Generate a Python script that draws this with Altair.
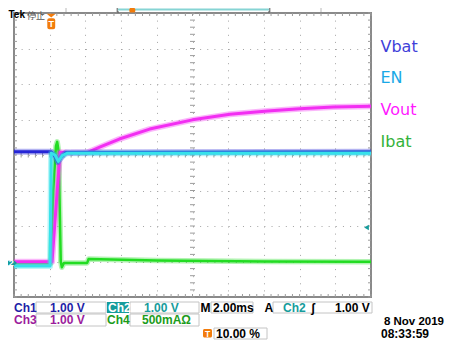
import altair as alt
import pandas as pd
import numpy as np

# ---- traces: time in ms (trigger = 0 ms), level in graticule divisions from centre
vbat_t = [-2.0, 0.10, 0.30, 0.45, 0.62, 0.90, 18.0]
vbat_d = [0.09, 0.09, -0.05, -0.20, -0.08, 0.07, 0.09]

en_t = [-2.0, 0.02, 0.08, 0.30, 0.48, 0.70, 1.00, 18.0]
en_d = [-3.13, -3.13, 0.05, 0.00, -0.18, -0.02, 0.05, 0.05]

vout_t = [-2.0, 0.13, 0.58, 1.2, 2.1, 2.8, 3.9, 5.6, 8.0, 10.1, 12.2, 14.0, 15.9, 18.0]
vout_d = [-3.01, -3.01, 0.08, 0.06, 0.07, 0.22, 0.45, 0.73, 0.99, 1.15, 1.24, 1.30, 1.35, 1.37]

ibat_t = [-2.0, 0.05, 0.20, 0.35, 0.42, 0.50, 0.62, 0.68, 0.80, 2.10, 2.18, 6.0, 12.0, 18.0]
ibat_d = [-3.05, -3.05, -1.0, 0.25, 0.37, 0.10, -3.00, -3.16, -3.04, -3.04, -2.93, -2.97, -3.00, -3.01]

ch2_ground = -3.04      # divisions
ch2_trig_level = 1.00   # V (1 V/div)

trace_names = ["Vbat", "EN", "Vout", "Ibat"]
trace_colors = ["#2626d6", "#36e2ea", "#f22ef2", "#22dc22"]
label_colors = ["#3f3fd9", "#1aa8e6", "#ff1aff", "#34b23a"]

readout_row1 = [("Ch1", "#1f1fa8"), ("1.00 V", "#1f1fa8"), ("Ch2", "#ffffff"),
                ("1.00 V", "#169c9c"), ("M", "#000000"), ("2.00ms", "#000000"),
                ("A", "#000000"), ("Ch2", "#169c9c"), ("ʃ", "#000000"), ("1.00 V", "#000000")]
readout_row2 = [("Ch3", "#9c1c9c"), ("1.00 V", "#9c1c9c"), ("Ch4", "#1c9c1c"), ("500mAΩ", "#1c9c1c")]
trig_pos_text = "10.00 %"
date_text = "8 Nov 2019"
time_text = "08:33:59"
status_brand = "Tek"
status_state = "停止"

W, H = 357, 284
OX, OY = 14, 13          # page position of plot origin
TX = 20 / W              # ms per px
DY = 8 / H               # div per px

XS = alt.Scale(domain=[-2, 18], nice=False, zero=False)
YS = alt.Scale(domain=[-4, 4], nice=False, zero=False)
xaxis = alt.Axis(values=[0, 2, 4, 6, 8, 10, 12, 14, 16], grid=True, gridDash=[1, 6.1],
                 gridColor="#a4a4a4", gridWidth=1, ticks=False, labels=False,
                 domain=False, title=None)
yaxis = alt.Axis(values=[-3, -2, -1, 0, 1, 2, 3], grid=True, gridDash=[1, 6.14],
                 gridColor="#a4a4a4", gridWidth=1, ticks=False, labels=False,
                 domain=False, title=None)


def X(f="t"):
    return alt.X(f"{f}:Q", scale=XS, axis=xaxis)


def Y(f="d"):
    return alt.Y(f"{f}:Q", scale=YS, axis=yaxis)


dummy = pd.DataFrame({"k": [0]})


def px(x):
    return x - OX


def py(y):
    return y - OY


def txt(s, x, y, color="#000000", size=12, weight="bold", align="left",
        font="Liberation Sans", baseline="middle"):
    return alt.Chart(dummy).mark_text(
        text=s, align=align, baseline=baseline, font=font, fontSize=size,
        fontWeight=weight, color=color
    ).encode(x=alt.value(px(x)), y=alt.value(py(y)))


def box(x1, y1, x2, y2, fill="#ffffff", stroke="#c4c4c4", r=0):
    kw = dict(fill=fill, strokeWidth=1, cornerRadius=r)
    if stroke:
        kw["stroke"] = stroke
    return alt.Chart(dummy).mark_rect(**kw).encode(
        x=alt.value(px(x1)), x2=alt.value(px(x2)),
        y=alt.value(py(y1)), y2=alt.value(py(y2)))


def vline(x, y1, y2, color="#b8b8b8", w=1):
    return alt.Chart(dummy).mark_rule(color=color, strokeWidth=w).encode(
        x=alt.value(px(x)), y=alt.value(py(y1)), y2=alt.value(py(y2)))


def hline(x1, x2, y, color="#b8b8b8", w=1):
    return alt.Chart(dummy).mark_rule(color=color, strokeWidth=w).encode(
        x=alt.value(px(x1)), x2=alt.value(px(x2)), y=alt.value(py(y)))


# ---- graticule ticks
minor_t = np.round(np.arange(-2, 18.0001, 0.4), 4)
minor_d = np.round(np.arange(-4, 4.0001, 0.2), 4)
ticks = pd.concat([
    pd.DataFrame({"t": minor_t, "t2": minor_t, "d": 4.0, "d2": 4 - 3 * DY}),
    pd.DataFrame({"t": minor_t, "t2": minor_t, "d": -4.0, "d2": -4 + 3 * DY}),
    pd.DataFrame({"t": minor_t, "t2": minor_t, "d": -2.5 * DY, "d2": 2.5 * DY}),
    pd.DataFrame({"t": -2.0, "t2": -2 + 3 * TX, "d": minor_d, "d2": minor_d}),
    pd.DataFrame({"t": 18.0, "t2": 18 - 3 * TX, "d": minor_d, "d2": minor_d}),
    pd.DataFrame({"t": 8 - 2.5 * TX, "t2": 8 + 2.5 * TX, "d": minor_d, "d2": minor_d}),
], ignore_index=True)

layers = []
layers.append(alt.Chart(ticks).mark_rule(color="#9c9c9c", strokeWidth=1).encode(
    x=X(), x2=alt.X2("t2:Q"), y=Y(), y2=alt.Y2("d2:Q")))

# ---- traces (draw order: Ibat, Vout, Vbat, EN)
series = {
    "Vbat": (vbat_t, vbat_d),
    "EN": (en_t, en_d),
    "Vout": (vout_t, vout_d),
    "Ibat": (ibat_t, ibat_d),
}
for name in ["Ibat", "Vout", "Vbat", "EN"]:
    t, d = series[name]
    col = trace_colors[trace_names.index(name)]
    df = pd.DataFrame({"t": t, "d": d, "o": list(range(len(t)))})
    core = 2.5 if name == "Ibat" else 3
    layers.append(alt.Chart(df).mark_line(color=col, strokeWidth=core + 3, opacity=0.35,
                                          strokeJoin="round").encode(
        x=X(), y=Y(), order="o:Q"))
    layers.append(alt.Chart(df).mark_line(color=col, strokeWidth=core,
                                          strokeJoin="round").encode(
        x=X(), y=Y(), order="o:Q"))

# ---- trigger position marker (top)
layers.append(alt.Chart(pd.DataFrame({"t": [0.0]})).mark_point(
    shape="M-1,-0.4 L1,-0.4 L0,0.4 Z", size=81, filled=True, opacity=1,
    color="#f27c0c").encode(x=alt.value(px(51.2)), y=alt.value(py(15.6))))
layers.append(box(47.3, 18.3, 55.2, 29.3, fill="#f27c0c", stroke=None, r=2))
layers.append(txt("T", 51.3, 24, color="#ffffff", size=9, align="center"))

# ---- trigger level marker (right) and Ch2 ground marker (left)
layers.append(alt.Chart(pd.DataFrame({"d": [ch2_ground + ch2_trig_level]})).mark_point(
    shape="triangle-left", size=30, filled=True, opacity=1, color="#169c9c").encode(
    x=alt.value(px(366.5)), y=Y()))
layers.append(alt.Chart(pd.DataFrame({"d": [ch2_ground]})).mark_point(
    shape="M-1,-0.5 L0.45,-0.5 L1,0 L0.45,0.5 L-1,0.5 Z", size=81, filled=True,
    opacity=1, color="#169c9c").encode(x=alt.value(px(12.5)), y=Y()))
layers.append(alt.Chart(pd.DataFrame({"d": [ch2_ground]})).mark_text(
    text="2", font="Liberation Sans", fontWeight="bold", fontSize=9, color="#ffffff",
    align="center", baseline="middle").encode(x=alt.value(px(11.3)), y=Y()))

# ---- top status bar (page rows above y=8 are outside the drawing surface)
layers.append(txt(status_brand, 8.5, 18.0, size=10, baseline="alphabetic"))
layers.append(txt(status_state, 27, 18.5, size=9, weight="normal",
                  font="Noto Sans CJK JP", color="#555555", baseline="alphabetic"))
layers.append(vline(66, 8, 12))
layers.append(vline(321, 8, 12))
layers.append(hline(118, 269, 9.5, color="#86d4d4", w=2))
layers.append(vline(117.2, 8, 12, color="#555555"))
layers.append(hline(117.2, 119, 12, color="#555555"))
layers.append(vline(269.8, 8, 12, color="#555555"))
layers.append(hline(268, 269.8, 12, color="#555555"))
layers.append(box(129.3, 8, 135.3, 12.5, fill="#f27c0c", stroke=None, r=1.5))

# ---- channel labels (right)
for name, yb in zip(trace_names, [52, 83, 115, 147]):
    layers.append(txt(name, 380.5, yb, color=label_colors[trace_names.index(name)],
                      size=16, weight="normal", font="DejaVu Sans",
                      baseline="alphabetic"))

# ---- bottom readout
r1 = 307.8
r2 = 320.3
r3 = 333.6
layers += [
    box(36, 302, 106, 313), box(107, 302, 129, 313, fill="#169c9c", stroke=None),
    box(130, 302, 199, 313), box(211, 302, 253, 313), box(273, 302, 372, 313),
    box(36, 314, 106, 326), box(130, 314, 199, 326),
    box(203, 329, 212, 337.5, fill="#f27c0c", stroke=None, r=1.5),
    box(214, 328, 267, 339),
]
row1_x = [14, 50, 108, 144, 200.5, 213, 264.5, 283, 311, 335]
for (s, c), x in zip(readout_row1, row1_x):
    layers.append(txt(s, x, r1, color=c, size=12))
row2_x = [14, 50, 107, 142]
for (s, c), x in zip(readout_row2, row2_x):
    layers.append(txt(s, x, r2, color=c, size=12))
layers.append(txt("T", 207.5, r3, color="#ffffff", size=8.5, align="center"))
layers.append(txt(trig_pos_text, 216, r3, size=12))
layers.append(txt(date_text, 444, 322, size=11.5, align="right"))
layers.append(txt(time_text, 381, r3, size=12))

chart = alt.layer(*layers).properties(
    width=W, height=H,
    autosize=alt.AutoSizeParams(type="none"),
    padding={"left": OX - 8, "top": OY - 8, "right": 438 - (OX - 8) - W,
             "bottom": 339 - (OY - 8) - H},
    background="#ffffff",
).configure_view(stroke="#8a8a8a", strokeWidth=2)

chart.save("out.html", embed_options={"renderer": "svg", "actions": False})
